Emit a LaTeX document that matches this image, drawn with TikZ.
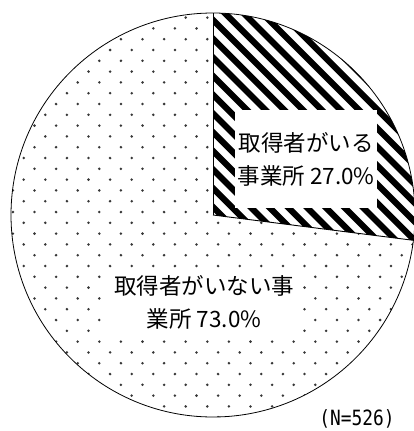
\documentclass[tikz,border=0pt]{standalone}
\usepackage{fontspec}
\usetikzlibrary{calc}
\newfontfamily\jp{Noto Sans CJK JP}
\newfontfamily\monof{DejaVu Sans Mono}
\definecolor{dotcol}{RGB}{55,55,55}
\tikzset{
  lab/.style={fill=white, inner sep=0pt, align=center,
    font=\jp\fontsize{22.5}{33}\selectfont},
  sep/.style={line width=0.9pt, black},
  stripe/.style={line width=6.2pt, black}
}
\begin{document}
\begin{tikzpicture}[x=1pt,y=-1pt]
\useasboundingbox (0,0) rectangle (414,431);
\coordinate (C) at (213,215);
\def\R{202}
% large slice: dots
\begin{scope}
\clip (C) -- ++(7.2:\R) arc[start angle=7.2,end angle=270,radius=\R] -- cycle;
\fill[white] (0,0) rectangle (414,431);
\foreach \j in {-6,...,15}{
  \foreach \m in {-4,...,16}{
    \fill[dotcol] (77.7+21.6*\m,104+21.6*\j) circle[radius=1.4pt];
    \fill[dotcol] (66.9+21.6*\m,114.8+21.6*\j) circle[radius=1.4pt];
  }
}
\end{scope}
% small slice: stripes
\begin{scope}
\clip (C) -- ++(270:\R) arc[start angle=270,end angle=367.2,radius=\R] -- cycle;
\fill[white] (0,0) rectangle (414,431);
\foreach \k in {-13,...,13}{
  \draw[stripe] (193-18.7*\k-60,-60) -- (193-18.7*\k+320,320);
}
\end{scope}
% outlines
\draw[line width=0.8pt] (C) circle[radius=\R];
\coordinate (T) at ($(C)+(270:\R)$);
\coordinate (B) at ($(C)+(7.2:\R)$);
\draw[sep] (C) -- (T);
\draw[sep] (C) -- (B);
% labels
\node[lab, minimum width=142pt, minimum height=98pt] (l1) at (306,159)
  {取得者がいる\\事業所 27.0\%};
\node[lab, minimum width=194pt, minimum height=63pt] (l2) at (204,302.5)
  {取得者がいない事\\業所 73.0\%};
\node[inner sep=0pt, font=\monof\fontsize{17.5}{20}\selectfont] (n) at (357,418.5)
  {\scalebox{1.02}[1.2]{(N=526)}};
\end{tikzpicture}
\end{document}
